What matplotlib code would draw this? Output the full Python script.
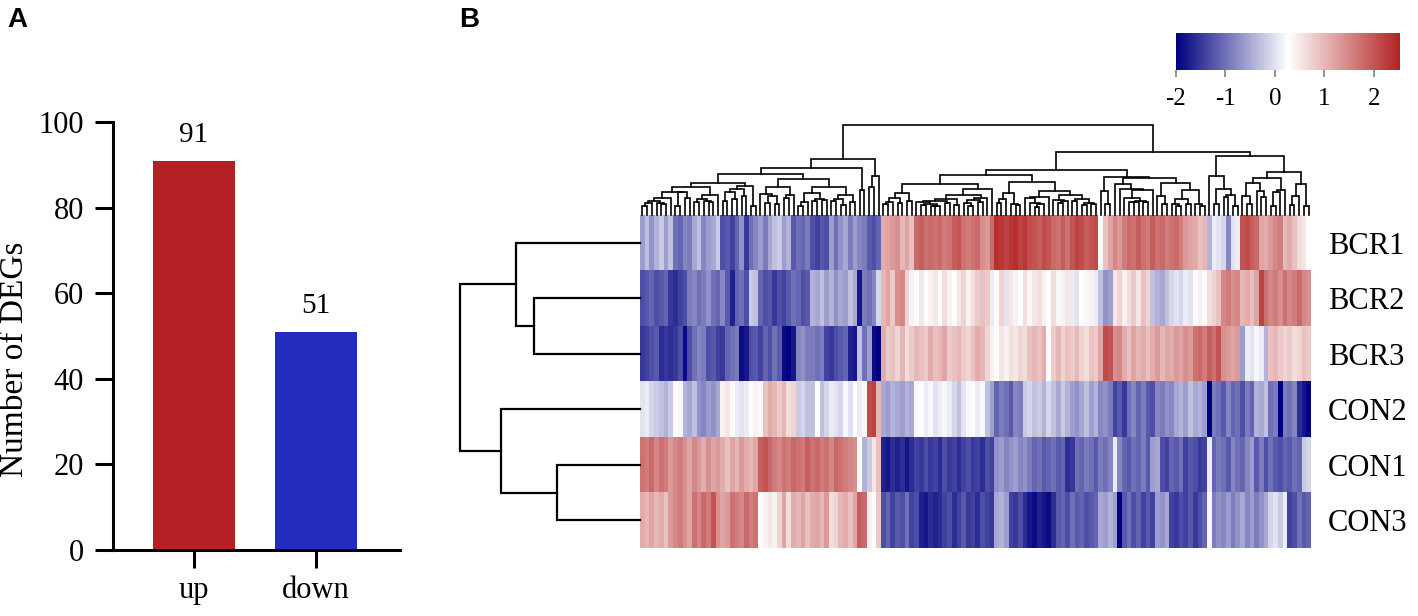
import numpy as np
import matplotlib
matplotlib.use("Agg")
import matplotlib.pyplot as plt
from matplotlib.colors import LinearSegmentedColormap, Normalize
from matplotlib.cm import ScalarMappable

plt.rcParams['font.family'] = ['Liberation Serif', 'DejaVu Serif']
plt.rcParams['axes.unicode_minus'] = False

# ---- panel A data
categories = ["up", "down"]
deg_counts = [91, 51]
bar_colors = ["#B52024", "#242CC0"]

# ---- panel B data (z-scores, columns already in clustered order)
samples = ["BCR1", "BCR2", "BCR3", "CON2", "CON1", "CON3"]

bcr1 = [-0.6, -0.3, -0.7, -0.4, -0.2, -0.6, -0.3, -1.0, -1.1, -0.8,
        -0.9, -0.5, -0.3, -0.8, -0.6, -0.5, -0.2, -1.3, -1.2, -1.4,
        -1.1, -0.7, -1.5, -1.0, -0.8, -0.6, -0.9, -0.5, -0.3, -0.2,
        -0.6, -0.4, -1.2, -1.0, -1.1, -0.9,
        -1.3, -1.4, -1.2, -1.3, -0.6, -1.0, -0.7, -0.5, -0.9, -0.6, -0.8, -0.9, -1.2, -1.3, -1.1,
        1.1, 1.2, 1.3, 1.4, 1.0, 1.2, 0.9, 1.8, 1.9, 1.7, 1.8, 1.7, 1.8, 1.6, 1.7, 1.9, 2.0, 1.7, 1.6, 1.7, 1.8,
        1.4, 1.3, 1.8, 2.4, 2.3, 2.2, 2.3, 2.4, 2.2, 2.3,
        2.1, 2.0, 1.9, 2.1, 2.0, 1.8, 1.7, 1.9, 1.7, 2.0,
        2.2, 2.1, 1.9, 2.0, 2.1, 0.3, 0.9, 1.2, 1.5, 1.3,
        1.6, 1.8, 1.7, 1.9, 1.7, 1.6,
        1.9, 1.7, 1.8, 1.6, 1.7, 1.8, 1.6, 1.3, 1.2, 1.1,
        0.9, 1.0, -0.4, 0.1, 0.0, -0.1, -0.8, 0.0, 0.1, 2.0,
        2.1, 1.9, 1.8, 1.2, 1.1, 1.3, 1.5, 1.6, 1.0, 1.1,
        0.9, 0.6, 0.5, 0.3]
bcr2 = [-1.3, -1.2, -1.1, -1.3, -1.2, -1.1, -1.5, -1.6, -1.4, -1.3,
        -0.9, -0.8, -1.0, -0.9, -0.7, -1.0, -1.1, -0.8, -1.2, -1.7,
        -1.1, -1.0, -1.3, -0.2, -0.3, -1.1, -1.3, -1.2, -1.5, -1.3,
        -1.4, -1.2, -1.0, -1.1, -1.3, -1.2,
        -0.4, -0.5, -0.3, -0.6, -0.4, -0.7, -0.5, -0.6, -0.3, -0.5, -1.8, -0.9, -1.0, -0.8, -0.1,
        1.0, 1.2, 0.8, 1.4, 1.5, 0.7, 0.4, 0.3, 0.5, 0.3, 0.4, 0.5, 0.3, 0.6, 0.4, 0.3, 0.5, 0.7, 0.4, 0.6, 0.8,
        0.9, 0.8, 0.1, 0.3, 0.7, 0.0, 0.5, 0.4, 0.3, 0.6,
        0.2, 0.5, 0.6, 0.4, 0.3, 0.6, 0.2, 0.4, 0.5, 0.1,
        0.0, 0.3, 0.2, 0.4, 0.1, -0.3, -0.7, -0.6, 0.5, 0.7,
        0.4, 0.6, 0.8, 0.5, 0.9, 0.7,
        -0.3, -0.4, -0.5, -0.3, -0.1, 0.0, -0.1, 0.1, 0.0, 0.3,
        0.4, 0.3, 0.6, 0.7, 0.9, 1.5, 1.6, 1.4, 1.5, 1.0,
        1.1, 0.9, 1.2, 2.2, 1.7, 1.5, 1.6, 1.4, 1.7, 1.5,
        1.6, 1.8, 1.5, 1.4]
bcr3 = [-1.5, -1.4, -1.3, -1.2, -1.6, -1.5, -1.6, -1.5, -1.3, -1.9,
        -1.3, -1.0, -0.8, -0.9, -1.3, -1.2, -1.4, -1.5, -1.1, -1.0,
        -0.9, -1.9, -1.8, -1.3, -1.2, -1.4, -1.1, -1.3, -1.0, -1.2,
        -1.9, -2.0, -1.8, -0.8, -0.7, -0.9,
        -0.9, -1.0, -0.9, -1.4, -1.5, -1.3, -1.2, -1.1, -1.7, -1.8, -0.3, -1.0, -0.6, -1.9, -2.0,
        1.1, 0.8, 0.9, 0.7, 1.0, 0.6, 0.8, 1.0, 0.9, 0.8, 1.1, 0.9, 1.0, 1.2, 0.8, 0.9, 1.0, 0.8, 0.7, 0.9, 1.1,
        1.0, 0.7, 0.4, 0.3, 0.5, 0.4, 0.6, 0.5, 0.7, 0.6,
        0.9, 1.0, 0.9, 1.1, 0.3, 0.8, 1.0, 0.7, 0.9, 0.8,
        1.0, 0.7, 0.6, 0.9, 0.8, 1.2, 2.1, 2.0, 1.4, 1.5,
        1.1, 0.9, 1.2, 1.0, 1.1, 0.9,
        1.1, 1.3, 1.0, 1.2, 1.1, 1.3, 1.2, 1.4, 1.3, 1.7,
        1.8, 1.6, 1.9, 1.7, 2.0, 1.4, 1.3, 1.2, 1.3, -0.6,
        0.1, 0.0, 0.2, 0.1, -0.4, 0.9, 1.0, 0.8, 0.7, 0.8,
        0.6, 0.7, 0.9, 0.8]
con2 = [0.0, 0.1, -0.1, -0.2, -0.3, -0.4, -0.2, 0.3, 0.2, -0.4,
        -0.5, -0.3, -0.7, -0.8, -0.6, -0.7, -0.5, 0.4, 0.5, 0.3,
        0.1, 0.0, 0.1, 0.3, 0.4, 0.2, 0.9, 1.1, 1.0, 0.8,
        1.0, 0.6, 0.7, -0.2, -0.1, -0.3,
        -0.3, 0.3, -0.3, -0.1, 0.1, 0.0, -0.1, 0.2, 0.0, 0.3, 0.1, 0.2, 2.1, 2.2, 1.0,
        -0.5, -0.6, -0.4, -0.5, -0.6, -0.4, -0.5, 0.2, 0.3, 0.1, 0.2, 0.0, 0.1, 0.2, 0.1, -0.1, -0.3, 0.0, 0.2, 0.3, 0.1,
        0.2, -0.3, -0.6, -1.1, -0.9, -1.0, -1.2, -0.8, -0.9, -0.2,
        -0.1, -0.3, -0.2, -0.4, -0.1, -0.3, -0.5, -0.2, -0.4, -0.6,
        -0.7, -0.5, -0.3, -0.6, -0.4, -0.8, -0.7, -0.9, -1.4, -1.2,
        -1.5, -1.0, -0.8, -1.1, -0.9, -1.2,
        -1.3, -0.8, -0.9, -0.7, -0.8, -0.5, -0.4, -0.6, -0.3, -0.5,
        -0.4, -0.6, -2.0, -0.9, -1.0, -1.2, -0.8, -1.1, -1.0, -1.3,
        -0.9, -1.1, -0.4, -0.5, -0.3, -1.0, -0.9, -2.0, -0.9, -1.0,
        -0.8, -1.6, -1.8, -2.0]
con1 = [1.7, 1.6, 1.8, 1.5, 1.7, 1.6, 1.3, 1.5, 1.6, 1.4,
        1.2, 1.5, 1.3, 1.1, 1.4, 1.2, 1.3, 1.1, 0.9, 1.2,
        1.0, 1.3, 1.1, 1.0, 1.2, 1.9, 2.0, 1.8, 1.6, 1.5,
        1.7, 1.6, 1.8, 1.7, 1.6, 1.9,
        1.7, 1.8, 1.6, 1.7, 1.5, 1.8, 1.7, 1.6, 1.5, 1.4, 0.3, -0.4, -0.2, 0.5, 0.9,
        -1.7, -1.8, -1.6, -1.7, -1.6, -1.8, -1.6,
        -1.4, -1.5, -1.3, -1.5, -1.4, -1.6, -1.3, -1.5, -1.4, -1.6,
        -1.4, -1.3, -1.5, -1.4, -1.6, -1.3, -1.4,
        -0.7, -0.6, -0.8, -0.7, -0.6, -0.8, -0.7, -0.9,
        -1.1, -1.0, -1.2, -1.1, -1.0, -1.2, -1.1,
        -1.6, -1.5,
        -1.0, -1.1, -0.9, -1.0, -1.2, -0.9, -1.0, -0.8,
        0.1, -0.8, -1.1, -1.2, -1.0, -1.1, -0.9, -1.2,
        -0.6, -0.5, -1.3, -1.4, -1.1, -1.2, -1.0, -1.4, -1.2, -1.3,
        -1.5, -1.4, 0.1, -1.1, -0.9, -1.0, -1.2, -0.8, -1.0, -1.1,
        -0.8, -0.6, -1.2, -0.9, -1.3, -1.0, -1.2, -1.3, -1.1, -1.2,
        -1.0, -1.1, -0.2, -0.1]
con3 = [1.1, 1.0, 1.2, 1.0, 1.1, 0.9, 1.3, 1.5, 1.6, 1.4,
        1.2, 1.7, 1.5, 1.8, 1.6, 2.0, 1.4, 1.2, 1.3, 1.7,
        1.6, 1.5, 1.8, 1.6, 1.7, 0.3, 0.4, 0.5, 0.4, 0.7,
        1.2, 0.6, 1.1, 1.0, 1.2, 0.9,
        1.1, 1.2, 1.0, 1.3, 0.6, 0.7, 1.0, 1.1, 0.9, 1.2, 1.9, 1.8, 0.4, 0.3, 0.8,
        -1.3, -1.1, -1.4, -1.2, -1.3, -1.0, -1.4, -1.3,
        -1.7, -1.8, -1.6, -1.7, -1.6,
        -1.4, -1.3, -1.6, -1.4, -1.2, -1.5, -1.4, -1.6, -1.3, -1.4, -1.5,
        -0.5, -0.4, -0.6,
        -1.4, -1.5, -1.3, -1.6,
        -1.8, -1.9, -1.7, -1.8, -1.9, -1.6,
        -1.2, -1.1, -1.3, -1.0, -1.2, -1.1, -1.3, -1.2, -1.1,
        -0.5, -0.6, -0.4, -0.6,
        -2.0,
        -1.2, -1.0, -1.3, -1.1, -1.4, -1.2,
        -1.4, -0.6, -0.7, -0.5, -1.4, -1.5, -1.3, -1.4, -1.2, -1.5,
        -1.3, -1.1, 0.2, -0.9, -0.7, -0.8, -0.6, -0.9, -0.7, -0.5,
        -0.8, -0.6, -0.9, -0.7, -0.5, -0.1, 0.0, -0.2, 0.1, -1.4,
        -1.3, -1.0, -1.2, -1.1]

# row dendrogram: merged node ids and heights (root = 1)
row_pairs = [(4, 5), (1, 2), (0, 7), (3, 6), (8, 9)]
row_heights = [0.46, 0.59, 0.69, 0.77, 1.0]

zmin, zmax = -2.0, 2.53

mat = np.array([bcr1, bcr2, bcr3, con2, con1, con3])
assert mat.shape == (6, 142), mat.shape
ncol = mat.shape[1]


def ordered_complete_links(X):
    # complete linkage, only neighbours may merge, so the leaf order stays
    d = np.sqrt(((X[:, None, :] - X[None, :, :]) ** 2).sum(-1))
    groups = [[i] for i in range(len(X))]
    xs = [i + 0.5 for i in range(len(X))]
    hs = [0.0] * len(X)
    links = []
    while len(groups) > 1:
        gaps = [d[np.ix_(groups[k], groups[k + 1])].max() for k in range(len(groups) - 1)]
        k = int(np.argmin(gaps))
        h = gaps[k]
        links.append((xs[k], hs[k], xs[k + 1], hs[k + 1], h))
        groups[k] = groups[k] + groups.pop(k + 1)
        xs[k] = (xs[k] + xs.pop(k + 1)) / 2
        hs.pop(k + 1)
        hs[k] = h
    return links


W, H = 1418, 616
fig = plt.figure(figsize=(W / 100, H / 100), dpi=100)


def box(x0, y0, x1, y1):
    return [x0 / W, 1 - y1 / H, (x1 - x0) / W, (y1 - y0) / H]


# ---------------- A
ax = fig.add_axes(box(113, 122, 400, 550))
xpos = np.arange(len(categories))
ax.bar(xpos, deg_counts, width=0.672, color=bar_colors)
for x, v in zip(xpos, deg_counts):
    ax.text(x, v + 3, str(v), ha="center", va="bottom", fontsize=21)
ax.set_xlim(-0.664, 1.689)
ax.set_ylim(0, 100)
ax.set_yticks([0, 20, 40, 60, 80, 100])
ax.set_xticks(xpos)
ax.set_xticklabels(categories)
ax.spines[["top", "right"]].set_visible(False)
for s in ["left", "bottom"]:
    ax.spines[s].set_linewidth(2.2)
ax.tick_params(axis="both", length=13, width=2.2, labelsize=22)
ax.tick_params(axis="y", pad=8)
ax.tick_params(axis="x", pad=6)
ax.set_ylabel("Number of DEGs", fontsize=24)
ax.yaxis.set_label_coords(-0.29, 0.445)
fig.text(7 / W, 1 - 20 / H, "A", fontsize=20, fontweight="bold",
         family="Liberation Sans", va="center", ha="left")

# ---------------- B
cmap = LinearSegmentedColormap.from_list("nwr", ["#000080", "#FFFFFF", "#B22222"])
norm = Normalize(zmin, zmax)

hx = fig.add_axes(box(640, 215, 1311, 548))
hx.imshow(mat, cmap=cmap, norm=norm, aspect="auto", interpolation="nearest",
          extent=(0, ncol, len(samples), 0))
hx.set_xticks([])
hx.yaxis.tick_right()
hx.set_yticks(np.arange(len(samples)) + 0.5)
hx.set_yticklabels(samples, fontsize=22)
hx.tick_params(axis="y", length=0, pad=12)
for s in hx.spines.values():
    s.set_visible(False)

# column dendrogram
tx = fig.add_axes(box(640, 125, 1311, 215))
links = ordered_complete_links(mat.T)
top = max(l[4] for l in links)
p = 0.8
for xl, hl, xr, hr, h in links:
    y = [(hl / top) ** p, (h / top) ** p, (h / top) ** p, (hr / top) ** p]
    tx.plot([xl, xl, xr, xr], y, color="black", lw=1.2, clip_on=False,
            solid_joinstyle="miter")
tx.set_xlim(0, ncol)
tx.set_ylim(0, 1)
tx.axis("off")

# row dendrogram
lx = fig.add_axes(box(460, 215, 640, 548))
pos = [i + 0.5 for i in range(len(samples))]
hgt = [0.0] * len(samples)
for (a, b), h in zip(row_pairs, row_heights):
    lx.plot([hgt[a], h, h, hgt[b]], [pos[a], pos[a], pos[b], pos[b]],
            color="black", lw=1.6, clip_on=False, solid_joinstyle="miter")
    pos.append((pos[a] + pos[b]) / 2)
    hgt.append(h)
lx.set_xlim(1, 0)
lx.set_ylim(len(samples), 0)
lx.axis("off")
fig.text(459 / W, 1 - 20 / H, "B", fontsize=20, fontweight="bold",
         family="Liberation Sans", va="center", ha="left")

# colour key
cax = fig.add_axes(box(1176, 33, 1400, 70))
cb = fig.colorbar(ScalarMappable(norm=norm, cmap=cmap), cax=cax, orientation="horizontal")
cb.outline.set_visible(False)
cb.set_ticks([-2, -1, 0, 1, 2])
cax.tick_params(length=5, width=1.2, color="#808080", labelsize=18, pad=8)

fig.savefig("out.png", dpi=100)
